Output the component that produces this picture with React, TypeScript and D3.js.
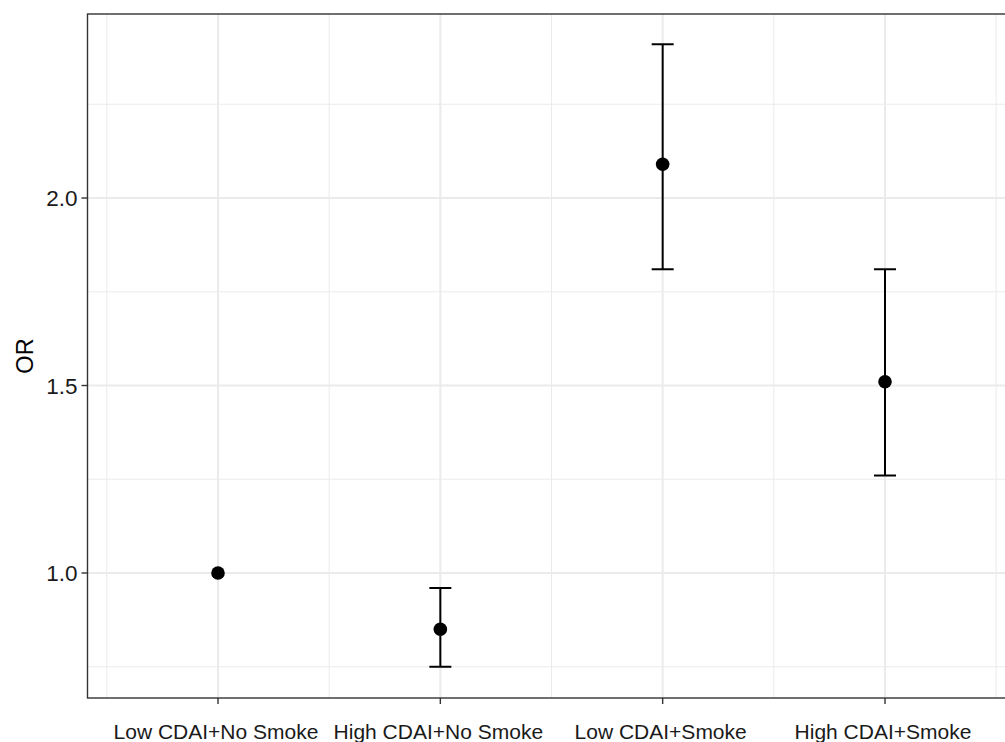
import React, { useEffect, useRef } from 'react';
import * as d3 from 'd3';

// values
const groups = ['Low CDAI+No Smoke', 'High CDAI+No Smoke', 'Low CDAI+Smoke', 'High CDAI+Smoke'];
const orValues = [1.0, 0.85, 2.09, 1.51];
const lowerCI = [null, 0.75, 1.81, 1.26];
const upperCI = [null, 0.96, 2.41, 1.81];
const yMajorTicks = [1.0, 1.5, 2.0];
const yMinorTicks = [0.75, 1.25, 1.75, 2.25];

const W = 1005;
const H = 742;

const App = () => {
    const svgRef = useRef<SVGSVGElement>(null);

    useEffect(() => {
        const svg = d3.select(svgRef.current);
        svg.selectAll('*').remove();

        const font = '"Liberation Sans", Arial, Helvetica, sans-serif';
        const panel = { left: 87.5, top: 14, right: 1020, bottom: 698 };

        // discrete x: groups at 1..4, ggplot-like expansion
        const x = d3.scaleLinear().domain([1, 4]).range([218, 885]);
        const y = d3.scaleLinear().domain([0.6667, 2.4907]).range([panel.bottom, panel.top]);

        const g = svg.append('g');

        // panel background
        g.append('rect')
            .attr('x', panel.left)
            .attr('y', panel.top)
            .attr('width', panel.right - panel.left)
            .attr('height', panel.bottom - panel.top)
            .attr('fill', 'white');

        // minor grid
        yMinorTicks.forEach(v => {
            g.append('line')
                .attr('x1', panel.left).attr('x2', panel.right)
                .attr('y1', y(v)).attr('y2', y(v))
                .attr('stroke', '#ebebeb').attr('stroke-width', 1);
        });
        d3.range(0.5, groups.length + 1, 1).forEach(v => {
            g.append('line')
                .attr('x1', x(v)).attr('x2', x(v))
                .attr('y1', panel.top).attr('y2', panel.bottom)
                .attr('stroke', '#ebebeb').attr('stroke-width', 1);
        });

        // major grid
        yMajorTicks.forEach(v => {
            g.append('line')
                .attr('x1', panel.left).attr('x2', panel.right)
                .attr('y1', y(v)).attr('y2', y(v))
                .attr('stroke', '#ebebeb').attr('stroke-width', 2);
        });
        groups.forEach((_, i) => {
            g.append('line')
                .attr('x1', x(i + 1)).attr('x2', x(i + 1))
                .attr('y1', panel.top).attr('y2', panel.bottom)
                .attr('stroke', '#ebebeb').attr('stroke-width', 2);
        });

        // error bars
        const capHalf = 11;
        groups.forEach((_, i) => {
            const lo = lowerCI[i];
            const hi = upperCI[i];
            if (lo == null || hi == null) return;
            const cx = x(i + 1);
            g.append('line')
                .attr('x1', cx).attr('x2', cx)
                .attr('y1', y(lo)).attr('y2', y(hi))
                .attr('stroke', 'black').attr('stroke-width', 2);
            [lo, hi].forEach(v => {
                g.append('line')
                    .attr('x1', cx - capHalf).attr('x2', cx + capHalf)
                    .attr('y1', y(v)).attr('y2', y(v))
                    .attr('stroke', 'black').attr('stroke-width', 2);
            });
        });

        // points
        g.selectAll('circle.pt')
            .data(orValues)
            .enter()
            .append('circle')
            .attr('class', 'pt')
            .attr('cx', (_, i) => x(i + 1))
            .attr('cy', d => y(d))
            .attr('r', 6.8)
            .attr('fill', 'black');

        // panel border
        g.append('rect')
            .attr('x', panel.left)
            .attr('y', panel.top)
            .attr('width', panel.right - panel.left)
            .attr('height', panel.bottom - panel.top)
            .attr('fill', 'none')
            .attr('stroke', '#333333')
            .attr('stroke-width', 1.4);

        // y axis ticks + labels
        yMajorTicks.forEach(v => {
            g.append('line')
                .attr('x1', panel.left - 6).attr('x2', panel.left)
                .attr('y1', y(v)).attr('y2', y(v))
                .attr('stroke', '#333333').attr('stroke-width', 1.4);
            g.append('text')
                .attr('x', panel.left - 10)
                .attr('y', y(v))
                .attr('dy', '0.36em')
                .attr('text-anchor', 'end')
                .attr('font-family', font)
                .attr('font-size', 22.5)
                .attr('fill', '#1a1a1a')
                .text(d3.format('.1f')(v));
        });

        // x axis ticks + labels
        groups.forEach((name, i) => {
            const cx = x(i + 1);
            g.append('line')
                .attr('x1', cx).attr('x2', cx)
                .attr('y1', panel.bottom).attr('y2', panel.bottom + 6)
                .attr('stroke', '#333333').attr('stroke-width', 1.4);
            g.append('text')
                .attr('x', cx - 2)
                .attr('y', 731)
                .attr('dy', '0.36em')
                .attr('text-anchor', 'middle')
                .attr('font-family', font)
                .attr('font-size', 21)
                .attr('fill', '#1a1a1a')
                .text(name);
        });

        // y axis title
        g.append('text')
            .attr('transform', `translate(24.5,${(panel.top + panel.bottom) / 2}) rotate(-90)`)
            .attr('dy', '0.36em')
            .attr('text-anchor', 'middle')
            .attr('font-family', font)
            .attr('font-size', 23.5)
            .attr('fill', 'black')
            .text('OR');
    }, []);

    return (
        <svg
            ref={svgRef}
            width={W}
            height={H}
            style={{ position: 'absolute', left: 0, top: 0, background: 'white' }}
        ></svg>
    );
};

export default App;
